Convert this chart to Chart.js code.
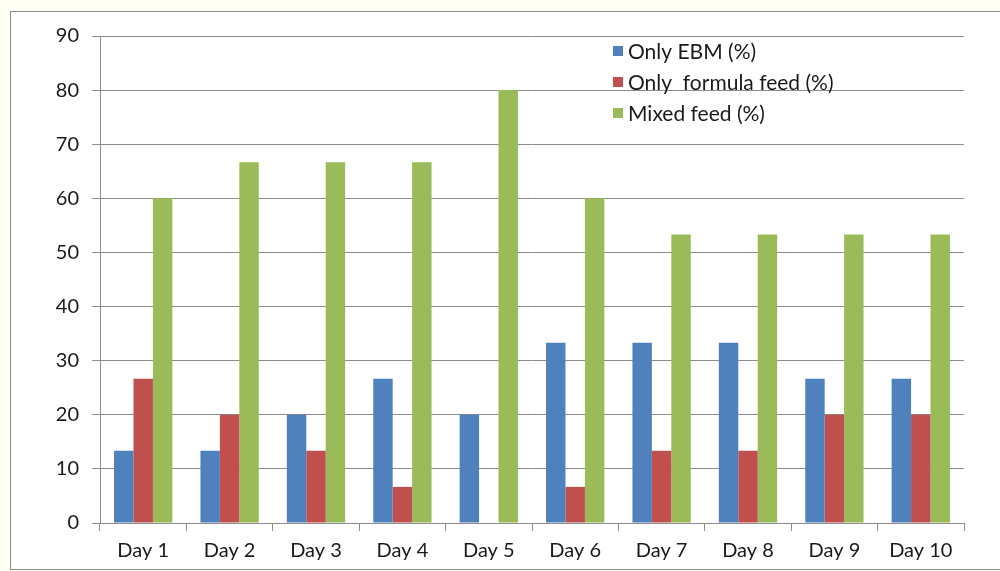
<!DOCTYPE html>
<html>
<head>
<meta charset="utf-8">
<script src="https://cdn.jsdelivr.net/npm/chart.js@4"></script>
<style>
  html, body { margin: 0; padding: 0; background: #fffef3; }
  #wrap { position: relative; width: 1000px; height: 571px; overflow: hidden; }
  #frame { position: absolute; left: 10px; top: 11px; width: 1000px; height: 557px;
           border: 1px solid #8c8c8c; background: #fff; }
  canvas { position: absolute; left: 0; top: 0; }
</style>
</head>
<body>
<div id="wrap">
  <div id="frame"></div>
  <canvas id="chart" width="1000" height="571"></canvas>
</div>
<script>
// données
const days = ['Day 1', 'Day 2', 'Day 3', 'Day 4', 'Day 5', 'Day 6', 'Day 7', 'Day 8', 'Day 9', 'Day 10'];
const onlyEbm = [13.33, 13.33, 20, 26.67, 20, 33.33, 33.33, 33.33, 26.67, 26.67];
const onlyFormula = [26.67, 20, 13.33, 6.67, 0, 6.67, 13.33, 13.33, 20, 20];
const mixedFeed = [60, 66.67, 66.67, 66.67, 80, 60, 53.33, 53.33, 53.33, 53.33];
const seriesNames = ['Only EBM (%)', 'Only  formula feed (%)', 'Mixed feed (%)'];
const colors = ['#4f81bd', '#c0504d', '#9bbb59'];

const FONT = 'Lato, "Open Sans", sans-serif';

// légende dessinée à la main, à l'intérieur du graphique
const legendInside = {
    id: 'legendInside',
    afterDraw(chart) {
        const ctx = chart.ctx;
        ctx.save();
        ctx.font = '21px ' + FONT;
        ctx.textBaseline = 'middle';
        chart.data.datasets.forEach((ds, i) => {
            const y = 51 + i * 31;
            ctx.fillStyle = ds.backgroundColor;
            ctx.fillRect(613, y - 5, 10, 10);
            ctx.fillStyle = '#1a1a1a';
            ctx.fillText(ds.label, 628, y + 1);
        });
        ctx.restore();
    }
};

new Chart(document.getElementById('chart'), {
    type: 'bar',
    data: {
        labels: days,
        datasets: [onlyEbm, onlyFormula, mixedFeed].map((d, i) => ({
            label: seriesNames[i],
            data: d,
            backgroundColor: colors[i],
            barPercentage: 1,
            categoryPercentage: 0.675
        }))
    },
    options: {
        responsive: false,
        animation: false,
        layout: { padding: { top: 36, right: 36, left: 0, bottom: 0 } },
        plugins: { legend: { display: false }, tooltip: { enabled: false } },
        scales: {
            x: {
                afterFit: s => { s.height = 48; },
                grid: { drawOnChartArea: false, color: '#8c8c8c', tickLength: 8 },
                border: { color: '#8c8c8c' },
                ticks: { color: '#1a1a1a', font: { family: FONT, size: 20 }, padding: 8 }
            },
            y: {
                min: 0,
                max: 90,
                afterFit: s => { s.width = 100; },
                grid: { color: '#8c8c8c', tickLength: 8 },
                border: { color: '#8c8c8c' },
                ticks: { stepSize: 10, color: '#1a1a1a', font: { family: FONT, size: 20 }, padding: 13 }
            }
        }
    },
    plugins: [legendInside]
});
</script>
</body>
</html>
